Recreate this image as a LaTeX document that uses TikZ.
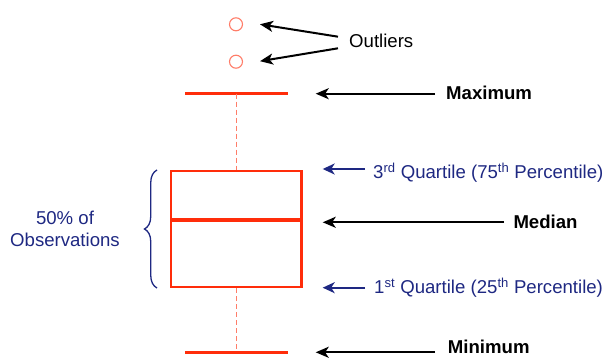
\documentclass[tikz,border=0pt]{standalone}
\usepackage{fontspec}
\setmainfont{Liberation Sans}
\usetikzlibrary{arrows.meta,decorations.pathreplacing}
\definecolor{boxred}{RGB}{255,45,10}
\definecolor{lightred}{RGB}{255,125,105}
\definecolor{navyblue}{RGB}{30,40,130}
\begin{document}
\begin{tikzpicture}[x=1pt,y=-1pt,
  lbl/.style={inner sep=0pt, font=\fontsize{18.6}{21.7}\selectfont},
  blk/.style={draw=black, line width=2pt, -{Stealth[length=13pt,width=11pt,inset=3.5pt]}},
  nav/.style={draw=navyblue, line width=2pt, -{Stealth[length=12pt,width=11pt,inset=3.5pt]}},
  whisker/.style={draw=boxred, line width=2.8pt},
  outlier/.style={circle, draw=lightred, line width=1.1pt, minimum size=13pt, inner sep=0pt},
  dashline/.style={draw=lightred, line width=1pt, dash pattern=on 5pt off 3pt}]
\useasboundingbox (0,0) rectangle (606,358);

% outliers
\node[outlier] (o1) at (236,24.3) {};
\node[outlier] (o2) at (236,61.7) {};
\node[lbl, anchor=base west] (outl) at (349,47.7) {Outliers};
\coordinate (o1tip) at (260,24.3);
\coordinate (o2tip) at (260,61.2);
\coordinate (ot1) at (338,36.7);
\coordinate (ot2) at (338,48.3);
\draw[blk] (ot1) -- (o1tip);
\draw[blk] (ot2) -- (o2tip);

% whiskers
\coordinate (maxL) at (185,93.7);
\coordinate (maxR) at (288,93.7);
\coordinate (maxC) at (236.3,93.7);
\coordinate (minL) at (185,352.3);
\coordinate (minR) at (288,352.3);
\coordinate (minC) at (236.3,352.3);
\draw[whisker] (maxL) -- (maxR);
\draw[whisker] (minL) -- (minR);

% box
\node[draw=boxred, line width=2.3pt, minimum width=130.3pt, minimum height=116pt, inner sep=0pt] (box) at (236.3,229.2) {};
\draw[boxred, line width=3.4pt] (box.west |- 0,220) -- (box.east |- 0,220);
\draw[dashline] (maxC) -- (box.north);
\draw[dashline] (box.south) -- (minC);

% labels right
\node[lbl, anchor=base west, font=\fontsize{18.6}{21.7}\selectfont\bfseries] (maxl) at (446,100) {Maximum};
\node[lbl, anchor=base west, font=\fontsize{18.6}{21.7}\selectfont\bfseries] (medl) at (513.3,228.3) {Median};
\node[lbl, anchor=base west, font=\fontsize{18.6}{21.7}\selectfont\bfseries] (minl) at (447.7,354) {Minimum};
\node[lbl, anchor=base west, text=navyblue] (q3l) at (373,178.3) {3\textsuperscript{rd} Quartile (75\textsuperscript{th} Percentile)};
\node[lbl, anchor=base west, text=navyblue] (q1l) at (374,293.3) {1\textsuperscript{st} Quartile (25\textsuperscript{th} Percentile)};

\coordinate (maxtail) at (435,93.7);
\coordinate (maxtip) at (315.7,93.7);
\coordinate (mintail) at (435,352.3);
\coordinate (mintip) at (315.7,352.3);
\coordinate (medtail) at (504,222.3);
\coordinate (medtip) at (322.7,222.3);
\coordinate (q3tail) at (365,169);
\coordinate (q3tip) at (322.7,169);
\coordinate (q1tail) at (365,287.7);
\coordinate (q1tip) at (322.7,287.7);
\draw[blk] (maxtail) -- (maxtip);
\draw[blk] (mintail) -- (mintip);
\draw[blk] (medtail) -- (medtip);
\draw[nav] (q3tail) -- (q3tip);
\draw[nav] (q1tail) -- (q1tip);

% brace and left label
\coordinate (brb) at (157,288);
\coordinate (brt) at (157,170);
\draw[navyblue, line width=1.3pt, decorate, decoration={brace, amplitude=12.5pt, aspect=0.5}] (brb) -- (brt);
\node[lbl, anchor=base, text=navyblue] (p50) at (65,225) {50\% of};
\node[lbl, anchor=base, text=navyblue] (obs) at (65,246.7) {Observations};
\end{tikzpicture}
\end{document}
